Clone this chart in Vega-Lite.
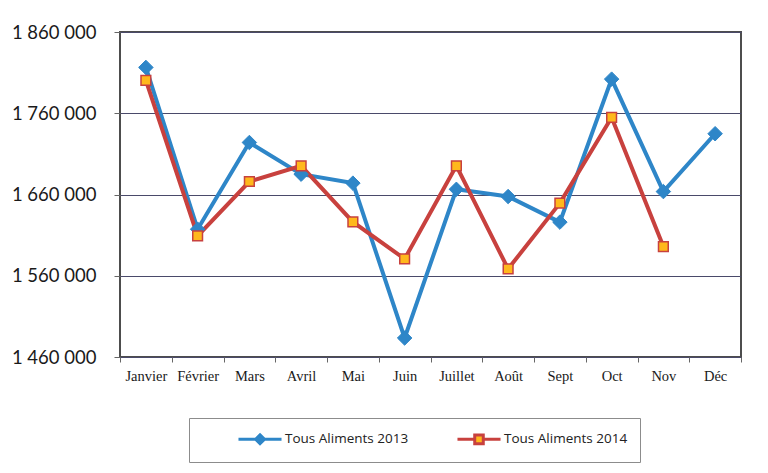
{
  "$schema": "https://vega.github.io/schema/vega-lite/v6.json",
  "width": 621,
  "height": 325,
  "autosize": {"type": "none"},
  "padding": {"left": 120, "top": 32, "right": 27, "bottom": 116},
  "background": "white",
  "config": {
    "locale": {"number": {"decimal": ",", "thousands": " ", "grouping": [3], "currency": ["", " €"]}},
    "view": {"stroke": "#4d4d4d", "strokeWidth": 2}
  },
  "data": {
    "values": [
      {"mois": "Janvier", "serie": "Tous Aliments 2013", "valeur": 1816400},
      {"mois": "Février", "serie": "Tous Aliments 2013", "valeur": 1617300},
      {"mois": "Mars", "serie": "Tous Aliments 2013", "valeur": 1724000},
      {"mois": "Avril", "serie": "Tous Aliments 2013", "valeur": 1685000},
      {"mois": "Mai", "serie": "Tous Aliments 2013", "valeur": 1674000},
      {"mois": "Juin", "serie": "Tous Aliments 2013", "valeur": 1483400},
      {"mois": "Juillet", "serie": "Tous Aliments 2013", "valeur": 1666400},
      {"mois": "Août", "serie": "Tous Aliments 2013", "valeur": 1657500},
      {"mois": "Sept", "serie": "Tous Aliments 2013", "valeur": 1626000},
      {"mois": "Oct", "serie": "Tous Aliments 2013", "valeur": 1802000},
      {"mois": "Nov", "serie": "Tous Aliments 2013", "valeur": 1663600},
      {"mois": "Déc", "serie": "Tous Aliments 2013", "valeur": 1734800},
      {"mois": "Janvier", "serie": "Tous Aliments 2014", "valeur": 1800400},
      {"mois": "Février", "serie": "Tous Aliments 2014", "valeur": 1609100},
      {"mois": "Mars", "serie": "Tous Aliments 2014", "valeur": 1676000},
      {"mois": "Avril", "serie": "Tous Aliments 2014", "valeur": 1695300},
      {"mois": "Mai", "serie": "Tous Aliments 2014", "valeur": 1626300},
      {"mois": "Juin", "serie": "Tous Aliments 2014", "valeur": 1580700},
      {"mois": "Juillet", "serie": "Tous Aliments 2014", "valeur": 1695300},
      {"mois": "Août", "serie": "Tous Aliments 2014", "valeur": 1568400},
      {"mois": "Sept", "serie": "Tous Aliments 2014", "valeur": 1649400},
      {"mois": "Oct", "serie": "Tous Aliments 2014", "valeur": 1754800},
      {"mois": "Nov", "serie": "Tous Aliments 2014", "valeur": 1595900}
    ]
  },
  "encoding": {
    "x": {
      "field": "mois",
      "type": "ordinal",
      "sort": ["Janvier", "Février", "Mars", "Avril", "Mai", "Juin", "Juillet", "Août", "Sept", "Oct", "Nov", "Déc"],
      "bandPosition": 0.5,
      "scale": {"type": "band", "paddingInner": 0, "paddingOuter": 0},
      "axis": {
        "title": null,
        "labelAngle": 0,
        "tickBand": "extent",
        "tickSize": 5,
        "tickColor": "#666",
        "domain": false,
        "grid": false,
        "labelFont": "Liberation Serif",
        "labelFontSize": 14.5,
        "labelColor": "#1a1a1a",
        "labelPadding": 7
      }
    },
    "y": {
      "field": "valeur",
      "type": "quantitative",
      "scale": {"domain": [1460000, 1860000], "nice": false, "zero": false},
      "axis": {
        "title": null,
        "values": [1460000, 1560000, 1660000, 1760000, 1860000],
        "format": ",d",
        "labelFont": "Lato",
        "labelFontSize": 18.5,
        "labelColor": "#1a1a1a",
        "labelPadding": 18,
        "tickSize": 6,
        "tickColor": "#666",
        "domain": false,
        "grid": true,
        "gridColor": "#4A4A6A",
        "gridWidth": 1
      }
    }
  },
  "layer": [
    {
      "mark": {"type": "line", "strokeWidth": 4},
      "encoding": {
        "color": {
          "field": "serie",
          "type": "nominal",
          "scale": {"domain": ["Tous Aliments 2013", "Tous Aliments 2014"], "range": ["#2E86C8", "#C8413E"]},
          "legend": {
            "orient": "none",
            "legendX": 69,
            "legendY": 386,
            "direction": "horizontal",
            "title": null,
            "padding": 12,
            "strokeColor": "#8C8C8C",
            "fillColor": "white",
            "symbolSize": 225,
            "symbolStrokeWidth": 3,
            "symbolOffset": 50,
            "labelOffset": 16,
            "labelFont": "Open Sans",
            "labelFontSize": 13.5,
            "labelColor": "#222222",
            "columnPadding": 11,
            "labelExpr": "datum.value === 'Tous Aliments 2014' ? datum.label + '\u00a0\u00a0\u00a0\u00a0\u00a0\u00a0\u00a0\u00a0' : datum.label",
            "encode": {
              "symbols": {
                "update": {
                  "shape": {"signal": "datum.value === 'Tous Aliments 2013' ? 'M-2.87,0L2.87,0M0,-0.6L0.6,0L0,0.6L-0.6,0Z' : 'M-2.87,0L-0.57,0M0.57,0L2.87,0M-0.57,-0.57H0.57V0.57H-0.57Z'"},
                  "fill": {"signal": "datum.value === 'Tous Aliments 2013' ? '#2E86C8' : '#FFB81C'"}
                }
              }
            }
          }
        }
      }
    },
    {
      "transform": [{"filter": "datum.serie === 'Tous Aliments 2013'"}],
      "mark": {"type": "point", "shape": "diamond", "filled": true, "opacity": 1, "size": 210, "fill": "#2E86C8", "stroke": "#2E86C8", "strokeWidth": 1}
    },
    {
      "transform": [{"filter": "datum.serie === 'Tous Aliments 2014'"}],
      "mark": {"type": "point", "shape": "square", "filled": true, "opacity": 1, "size": 95, "fill": "#FFB81C", "stroke": "#C8413E", "strokeWidth": 1.5}
    }
  ]
}
